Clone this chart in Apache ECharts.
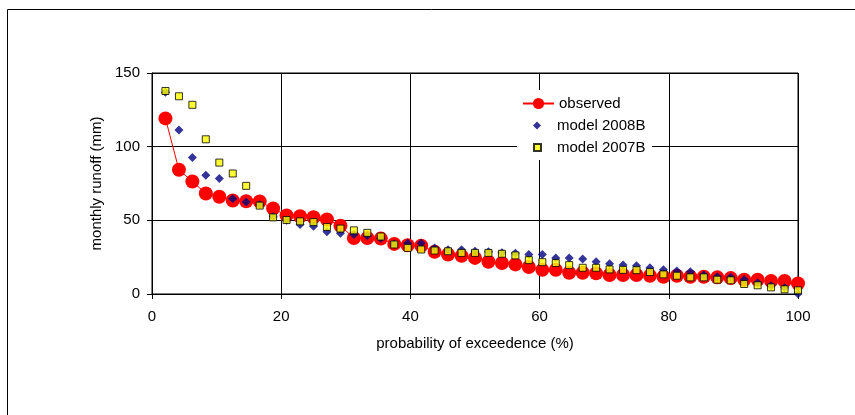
<!DOCTYPE html>
<html>
<head>
<meta charset="utf-8">
<script src="https://cdn.jsdelivr.net/npm/echarts@6/dist/echarts.min.js"></script>
<style>html,body{margin:0;padding:0;background:#fff;}#c{width:855px;height:415px;}</style>
</head>
<body>
<div id="c"></div>
<script>
const probability = [2.08,4.17,6.25,8.33,10.42,12.5,14.58,16.67,18.75,20.83,22.92,25,27.08,29.17,31.25,33.33,35.42,37.5,39.58,41.67,43.75,45.83,47.92,50,52.08,54.17,56.25,58.33,60.42,62.5,64.58,66.67,68.75,70.83,72.92,75,77.08,79.17,81.25,83.33,85.42,87.5,89.58,91.67,93.75,95.83,97.92,100];
const observed = [119.2,84.3,76.4,68.2,66,63.5,63,62.8,58,53.3,52.8,52.1,50.6,46.3,38,38,37.6,34,33.1,32.7,28.6,26.8,25.9,24.5,21.9,21,20.1,18.3,16.4,16.4,14.4,14.4,14,12.9,12.9,12.9,12.4,11.7,12.4,11.7,11.7,11.3,10.8,9.7,9.7,8.8,8.8,7.2];
const model2008B = [137,111.3,92.6,80.6,78.4,64.7,62.4,60.6,52.5,50,47.2,46,42.2,41.2,40.3,39.6,37.9,34,34.5,34.5,31.3,30,30,29,28.6,28,27.7,26.8,26.8,24.5,24.5,23.7,21.9,20.5,19.6,19.2,17.8,16.4,15.6,15.1,12.9,11.7,11.3,9.9,7.6,5.6,4.3,0.2];
const model2007B = [137.8,134.2,128.4,105,89.2,81.8,73.4,60,52,50.2,49.3,48.8,45.5,44.4,43.2,41.5,39,33.6,31.3,30.2,29.5,29,27.9,27.9,27.9,27.3,26.2,23,21.6,21,19.6,17.8,17.8,16.7,16.4,16.2,14.9,13.3,12.4,11.3,11.3,9.7,9.3,6.8,5.9,4.5,3.2,2.5];
const xTicks = [0,20,40,60,80,100];
const yTicks = [0,50,100,150];
const seriesNames = ['observed','model 2008B','model 2007B'];
const xTitle = 'probability of exceedence (%)';
const yTitle = 'monthly runoff (mm)';

const pairs = (ys) => probability.map((x, i) => [x, ys[i]]);
const font = 'Arial, "Liberation Sans", sans-serif';
const chart = echarts.init(document.getElementById('c'), null, {renderer: 'canvas'});
chart.setOption({
  animation: false,
  backgroundColor: '#fff',
  grid: {left: 152, right: 57, top: 73, bottom: 121, show: true, borderColor: '#000', borderWidth: 1, backgroundColor: 'transparent'},
  xAxis: {
    type: 'value', min: xTicks[0], max: xTicks[xTicks.length - 1], interval: 20,
    name: xTitle, nameLocation: 'middle', nameGap: 42,
    nameTextStyle: {color: '#000', fontFamily: font, fontSize: 15},
    axisLine: {lineStyle: {color: '#000', width: 1}},
    axisTick: {show: true, length: 5, lineStyle: {color: '#000'}},
    axisLabel: {color: '#000', fontFamily: font, fontSize: 15, margin: 15},
    splitLine: {show: true, lineStyle: {color: '#000', width: 1}}
  },
  yAxis: {
    type: 'value', min: yTicks[0], max: yTicks[yTicks.length - 1], interval: 50,
    name: yTitle, nameLocation: 'middle', nameGap: 44, nameRotate: 90,
    nameTextStyle: {color: '#000', fontFamily: font, fontSize: 15},
    axisLine: {show: true, lineStyle: {color: '#000', width: 1}},
    axisTick: {show: true, length: 5, lineStyle: {color: '#000'}},
    axisLabel: {color: '#000', fontFamily: font, fontSize: 15, margin: 12},
    splitLine: {show: true, lineStyle: {color: '#000', width: 1}}
  },
  graphic: [
    {type: 'rect', z: 1, shape: {x: 517, y: 90, width: 135, height: 70}, style: {fill: '#fff'}},
    {type: 'rect', z: 0, shape: {x: 7.5, y: 9.5, width: 900, height: 500}, style: {fill: 'none', stroke: '#000', lineWidth: 1}}
  ],
  legend: [
    {data: [seriesNames[0]], left: 522, top: 96, padding: 0, itemWidth: 31, itemHeight: 14,
     textStyle: {color: '#000', fontFamily: font, fontSize: 15}},
    {data: [seriesNames[1]], left: 533, top: 118, padding: 0, itemWidth: 8, itemHeight: 8,
     textStyle: {color: '#000', fontFamily: font, fontSize: 15, padding: [0, 0, 0, 11]}},
    {data: [seriesNames[2]], left: 533, top: 140, padding: 0, itemWidth: 7, itemHeight: 7,
     textStyle: {color: '#000', fontFamily: font, fontSize: 15, padding: [0, 0, 0, 11]}}
  ],
  series: [
    {name: seriesNames[0], type: 'line', data: pairs(observed), symbol: 'circle', symbolSize: 14,
     lineStyle: {color: '#ff0000', width: 1}, itemStyle: {color: '#ff0000'}, z: 2},
    {name: seriesNames[1], type: 'scatter', data: pairs(model2008B), symbol: 'diamond', symbolSize: 9,
     itemStyle: {color: '#000080'}, z: 3},
    {name: seriesNames[2], type: 'scatter', data: pairs(model2007B), symbol: 'rect', symbolSize: 7,
     itemStyle: {color: '#ffff00', borderColor: '#000', borderWidth: 1}, z: 4}
  ]
});
</script>
</body>
</html>
